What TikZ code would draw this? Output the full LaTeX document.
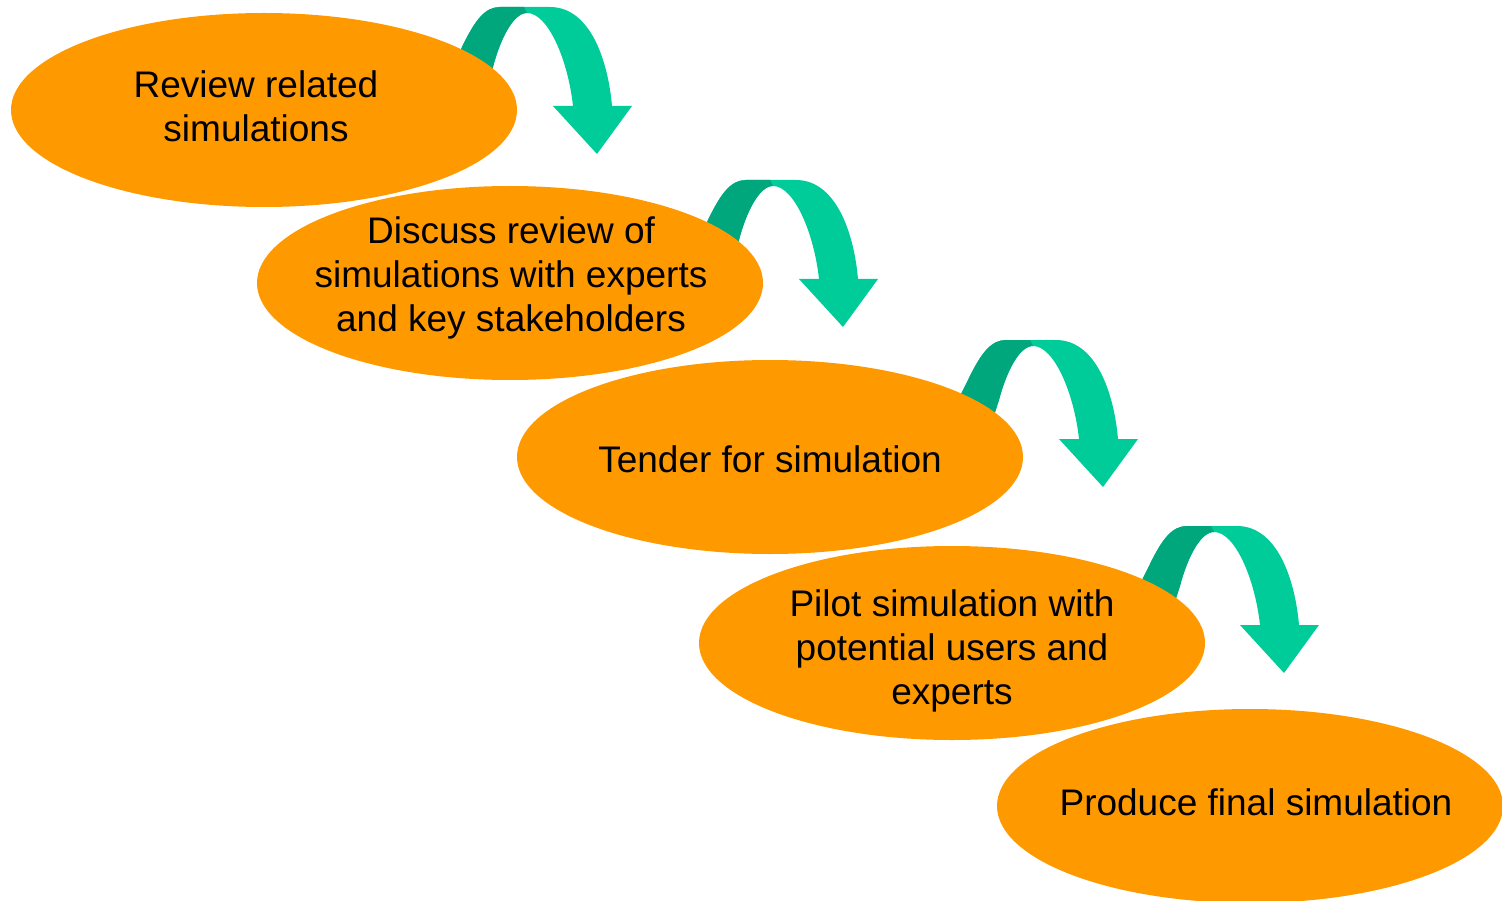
\documentclass[tikz,border=0pt]{standalone}
\usepackage{fontspec}
\setmainfont{Liberation Sans}
\usetikzlibrary{shapes.geometric}
\definecolor{stepfill}{HTML}{FF9900}
\definecolor{arrlight}{HTML}{00CC99}
\definecolor{arrdark}{HTML}{00A67C}
\begin{document}
\begin{tikzpicture}[x=1pt,y=-1pt,
  stepnode/.style={ellipse, fill=stepfill, minimum width=506pt, minimum height=194pt, inner sep=0pt},
  steptext/.style={inner sep=0pt, align=center, font=\fontsize{37}{44}\selectfont, text=black},
  arrowlight/.style={fill=arrlight},
  arrowdark/.style={fill=arrdark}]
\useasboundingbox (0,0) rectangle (1502,901);
\foreach \dx/\dy in {0/0, 246/173, 506/333, 687/519} {
  \begin{scope}[shift={(\dx,\dy)}]
    \fill[arrowlight] (448,75) -- (462,47) .. controls (475,20) and (485,7) .. (500,7) -- (550,7)
      .. controls (590,7) and (608,60) .. (612,106) -- (632,106) -- (597,154) -- (553,106) -- (573,106)
      .. controls (568,60) and (548,13) .. (527,13)
      .. controls (513,13) and (500,40) .. (493,67) -- (484,95) -- cycle;
    \fill[arrowdark] (448,75) -- (462,47) .. controls (475,20) and (485,7) .. (500,7) -- (524,7)
      -- (527,13) .. controls (513,13) and (500,40) .. (493,67) -- (484,95) -- cycle;
  \end{scope}
}
\node[stepnode] (s1) at (264,110) {};
\node[steptext] (t1) at (256,106) {Review related\\simulations};
\node[stepnode] (s2) at (510,283) {};
\node[steptext] (t2) at (511,278) {Discuss review of\\simulations with experts\\and key stakeholders};
\node[stepnode] (s3) at (770,457) {};
\node[steptext] (t3) at (770,459) {Tender for simulation};
\node[stepnode] (s4) at (952,643) {};
\node[steptext] (t4) at (952,651) {Pilot simulation with\\potential users and\\experts};
\node[stepnode] (s5) at (1250,806) {};
\node[steptext] (t5) at (1256,802) {Produce final simulation};
\end{tikzpicture}
\end{document}
